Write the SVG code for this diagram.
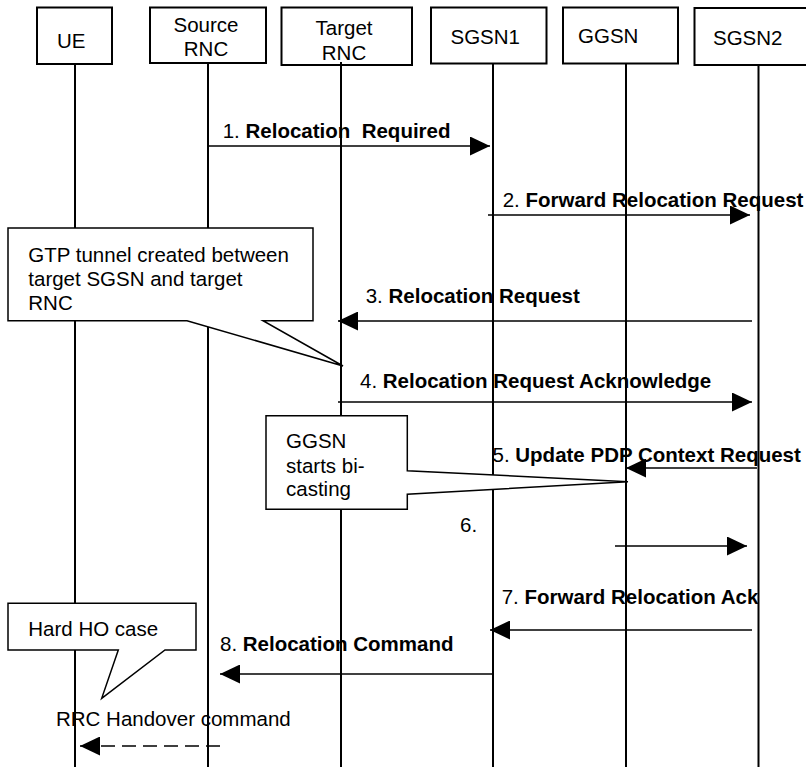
<svg xmlns="http://www.w3.org/2000/svg" width="806" height="767" viewBox="0 0 806 767">
<defs>
<style>
text{font-family:"Liberation Sans",Arial,sans-serif;font-size:20.5px;fill:#000}
.b{font-weight:bold}
.box{fill:#fff;stroke:#000;stroke-width:2}
.life{stroke:#000;stroke-width:2;fill:none}
.msg{stroke:#000;stroke-width:1.5;fill:none;marker-end:url(#ah)}
.dash{stroke-dasharray:14 7}
.note{fill:#fff;stroke:#000;stroke-width:1.5;stroke-linejoin:miter}
</style>
<marker id="ah" markerUnits="userSpaceOnUse" markerWidth="20" markerHeight="19" refX="20" refY="9.5" orient="auto" viewBox="0 0 20 19">
<path d="M0,0 L20,9.5 L0,19 z" fill="#000"/>
</marker>
</defs>
<rect width="806" height="767" fill="#fff"/>
<g id="connectors">
<line class="msg" x1="208" y1="146" x2="490" y2="146"/>
<text x="222.7" y="138" xml:space="preserve">1. <tspan class="b">Relocation  Required</tspan></text>
<line class="msg" x1="488" y1="215" x2="750" y2="215"/>
<text x="502.7" y="206.7">2. <tspan class="b">Forward Relocation Request</tspan></text>
<line class="msg" x1="752" y1="321" x2="338" y2="321"/>
<text x="365.7" y="302.5">3. <tspan class="b">Relocation Request</tspan></text>
<line class="msg" x1="338" y1="402" x2="752" y2="402"/>
<text x="360" y="387.5">4. <tspan class="b">Relocation Request Acknowledge</tspan></text>
<line class="msg" x1="757" y1="468" x2="626" y2="468"/>
<text x="492.5" y="461.7">5. <tspan class="b">Update PDP Context Request</tspan></text>
<line class="msg" x1="615" y1="546" x2="747" y2="546"/>
<text x="460" y="531.7">6.</text>
<line class="msg" x1="752" y1="630" x2="490" y2="630"/>
<text x="501.7" y="604">7. <tspan class="b">Forward Relocation Ack</tspan></text>
<line class="msg" x1="493" y1="674" x2="220" y2="674"/>
<text x="220" y="650.5">8. <tspan class="b">Relocation Command</tspan></text>
<line class="msg dash" x1="220" y1="746" x2="80" y2="746"/>
<text x="56" y="725.7">RRC Handover command</text>
</g>
<g id="ue">
<line class="life" x1="75" y1="63" x2="75" y2="767"/>
<rect class="box" x="37" y="7.5" width="75" height="56.5"/>
<text x="57" y="48">UE</text>
</g>
<g id="source-rnc">
<line class="life" x1="208" y1="63" x2="208" y2="767"/>
<rect class="box" x="150" y="7.5" width="116" height="55.5"/>
<text x="206" y="31.5" text-anchor="middle">Source</text>
<text x="206" y="56" text-anchor="middle">RNC</text>
</g>
<g id="target-rnc">
<rect class="box" x="281.5" y="7.5" width="130.5" height="57.5"/>
<text x="344" y="34.5" text-anchor="middle">Target</text>
<text x="344" y="60" text-anchor="middle">RNC</text>
<line class="life" x1="341" y1="62" x2="341" y2="767"/>
</g>
<g id="sgsn1">
<line class="life" x1="493" y1="63" x2="493" y2="767"/>
<rect class="box" x="431" y="7.5" width="115.5" height="56"/>
<text x="450.5" y="43.5">SGSN1</text>
</g>
<g id="ggsn">
<line class="life" x1="626" y1="63" x2="626" y2="767"/>
<rect class="box" x="563" y="7.5" width="115" height="56"/>
<text x="578" y="43">GGSN</text>
</g>
<g id="sgsn2">
<line class="life" x1="758.5" y1="62" x2="758.5" y2="767"/>
<rect class="box" x="694.5" y="8" width="130" height="57"/>
<text x="713" y="45">SGSN2</text>
</g>
<g id="note-gtp">
<polygon class="note" points="8,228 313,228 313,320.7 263,320.7 343,366 187,320.7 8,320.7"/>
<text x="28.3" y="261.5">GTP tunnel created between</text>
<text x="28.3" y="285.5">target SGSN and target</text>
<text x="28.3" y="309.5">RNC</text>
</g>
<g id="note-ggsn">
<polygon class="note" points="266,415.7 407.3,415.7 407.3,470.7 628,481.7 407.3,494.3 407.3,509.3 266,509.3"/>
<text x="286" y="448.3">GGSN</text>
<text x="286" y="472.5">starts bi-</text>
<text x="286" y="496">casting</text>
</g>
<g id="note-hard-ho">
<polygon class="note" points="8,603.3 196,603.3 196,650 165,650 101.7,698.3 118.3,650 8,650"/>
<text x="28.3" y="636">Hard HO case</text>
</g>
</svg>
